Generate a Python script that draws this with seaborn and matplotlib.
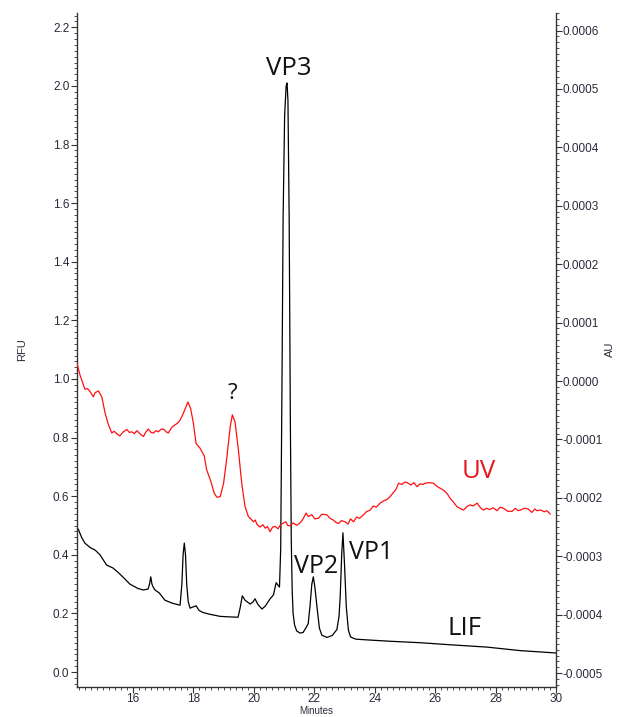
import numpy as np
import matplotlib.pyplot as plt
import matplotlib.ticker as mticker
import seaborn as sns

# ==========================================
# DATA
# ==========================================

# LIF trace, left axis (RFU)
lif_min = [14.15, 14.19, 14.30, 14.41, 14.58, 14.75, 14.91, 15.13, 15.34, 15.51,
           15.71, 15.90, 16.17, 16.34, 16.50, 16.55, 16.59, 16.63, 16.67, 16.73,
           16.87, 17.06, 17.30, 17.56, 17.62, 17.66, 17.70, 17.74, 17.78, 17.83,
           17.89, 17.99, 18.09, 18.19, 18.32, 18.55, 18.88, 19.22, 19.48, 19.55,
           19.62, 19.71, 19.88, 19.98, 20.04, 20.14, 20.27, 20.38, 20.54, 20.65,
           20.74, 20.81, 20.85, 20.89, 20.93, 20.97, 21.02, 21.07, 21.10, 21.13,
           21.17, 21.21, 21.24, 21.27, 21.30, 21.35, 21.42, 21.53, 21.63, 21.72,
           21.80, 21.86, 21.92, 21.97, 22.02, 22.09, 22.17, 22.25, 22.42, 22.60,
           22.75, 22.82, 22.86, 22.91, 22.95, 23.00, 23.06, 23.13, 23.20, 23.30,
           23.39, 23.85, 24.51, 25.51, 26.50, 27.72, 28.82, 30.00]
lif_rfu = [0.485, 0.488, 0.46, 0.44, 0.425, 0.416, 0.40, 0.365, 0.355, 0.34,
           0.32, 0.30, 0.285, 0.28, 0.283, 0.30, 0.325, 0.30, 0.29, 0.28,
           0.27, 0.245, 0.235, 0.228, 0.30, 0.40, 0.44, 0.40, 0.30, 0.24,
           0.218, 0.222, 0.226, 0.21, 0.203, 0.197, 0.19, 0.188, 0.187, 0.22,
           0.26, 0.245, 0.232, 0.24, 0.25, 0.23, 0.215, 0.225, 0.25, 0.263,
           0.305, 0.295, 0.29, 0.42, 0.95, 1.55, 1.90, 2.00, 2.01, 1.95,
           1.55, 0.85, 0.45, 0.28, 0.20, 0.16, 0.14, 0.133, 0.135, 0.15,
           0.165, 0.225, 0.30, 0.325, 0.29, 0.223, 0.15, 0.126, 0.118, 0.125,
           0.145, 0.19, 0.26, 0.405, 0.475, 0.37, 0.223, 0.143, 0.12, 0.115,
           0.112, 0.109, 0.105, 0.100, 0.093, 0.085, 0.073, 0.065]

# UV trace, right axis (AU)
uv_min = [14.15, 14.25, 14.33, 14.41, 14.50, 14.58, 14.69, 14.75, 14.86, 14.97,
          15.08, 15.19, 15.30, 15.38, 15.46, 15.57, 15.68, 15.80, 15.88, 15.96,
          16.05, 16.13, 16.25, 16.35, 16.42, 16.51, 16.60, 16.68, 16.76, 16.84,
          16.92, 17.01, 17.10, 17.17, 17.29, 17.40, 17.48, 17.56, 17.67, 17.82,
          17.91, 18.00, 18.09, 18.22, 18.36, 18.44, 18.58, 18.69, 18.78, 18.89,
          19.00, 19.11, 19.22, 19.29, 19.38, 19.49, 19.60, 19.71, 19.82, 19.90,
          19.99, 20.05, 20.10, 20.21, 20.30, 20.38, 20.45, 20.54, 20.62, 20.71,
          20.80, 20.87, 20.95, 21.06, 21.12, 21.20, 21.30, 21.42, 21.53, 21.62,
          21.73, 21.80, 21.92, 22.02, 22.14, 22.25, 22.42, 22.52, 22.63, 22.72,
          22.80, 22.90, 23.02, 23.12, 23.20, 23.30, 23.40, 23.50, 23.63, 23.72,
          23.85, 23.95, 24.05, 24.18, 24.30, 24.40, 24.51, 24.60, 24.70, 24.79,
          24.90, 25.00, 25.07, 25.20, 25.30, 25.40, 25.50, 25.60, 25.67, 25.80,
          25.95, 26.05, 26.15, 26.28, 26.40, 26.50, 26.60, 26.72, 26.82, 26.94,
          27.05, 27.16, 27.25, 27.39, 27.50, 27.60, 27.70, 27.80, 27.92, 28.05,
          28.15, 28.27, 28.40, 28.55, 28.65, 28.75, 28.82, 28.95, 29.08, 29.20,
          29.30, 29.37, 29.50, 29.61, 29.70, 29.81]
uv_au = [0.30e-4, 0.10e-4, -0.02e-4, -0.14e-4, -0.13e-4, -0.18e-4, -0.27e-4, -0.20e-4, -0.17e-4, -0.27e-4,
         -0.55e-4, -0.75e-4, -0.89e-4, -0.86e-4, -0.90e-4, -0.94e-4, -0.87e-4, -0.83e-4, -0.88e-4, -0.87e-4,
         -0.90e-4, -0.85e-4, -0.91e-4, -0.95e-4, -0.88e-4, -0.82e-4, -0.88e-4, -0.89e-4, -0.85e-4, -0.87e-4,
         -0.83e-4, -0.82e-4, -0.87e-4, -0.89e-4, -0.79e-4, -0.75e-4, -0.72e-4, -0.67e-4, -0.55e-4, -0.36e-4,
         -0.47e-4, -0.72e-4, -1.07e-4, -1.15e-4, -1.28e-4, -1.52e-4, -1.72e-4, -1.92e-4, -1.99e-4, -1.98e-4,
         -1.75e-4, -1.30e-4, -0.78e-4, -0.58e-4, -0.70e-4, -1.18e-4, -1.75e-4, -2.15e-4, -2.32e-4, -2.36e-4,
         -2.41e-4, -2.38e-4, -2.45e-4, -2.50e-4, -2.46e-4, -2.52e-4, -2.49e-4, -2.58e-4, -2.50e-4, -2.49e-4,
         -2.53e-4, -2.47e-4, -2.44e-4, -2.41e-4, -2.47e-4, -2.48e-4, -2.43e-4, -2.47e-4, -2.43e-4, -2.37e-4,
         -2.26e-4, -2.32e-4, -2.29e-4, -2.36e-4, -2.35e-4, -2.28e-4, -2.29e-4, -2.35e-4, -2.38e-4, -2.42e-4,
         -2.44e-4, -2.39e-4, -2.41e-4, -2.45e-4, -2.36e-4, -2.41e-4, -2.33e-4, -2.35e-4, -2.29e-4, -2.24e-4,
         -2.21e-4, -2.14e-4, -2.16e-4, -2.09e-4, -2.05e-4, -2.03e-4, -1.98e-4, -1.92e-4, -1.86e-4, -1.75e-4,
         -1.77e-4, -1.73e-4, -1.74e-4, -1.78e-4, -1.74e-4, -1.81e-4, -1.76e-4, -1.77e-4, -1.75e-4, -1.74e-4,
         -1.75e-4, -1.80e-4, -1.83e-4, -1.87e-4, -1.93e-4, -2.01e-4, -2.07e-4, -2.15e-4, -2.18e-4, -2.21e-4,
         -2.15e-4, -2.12e-4, -2.14e-4, -2.09e-4, -2.17e-4, -2.21e-4, -2.18e-4, -2.20e-4, -2.17e-4, -2.22e-4,
         -2.16e-4, -2.18e-4, -2.23e-4, -2.23e-4, -2.18e-4, -2.22e-4, -2.21e-4, -2.18e-4, -2.19e-4, -2.25e-4,
         -2.19e-4, -2.22e-4, -2.21e-4, -2.24e-4, -2.22e-4, -2.28e-4]

# peak / trace labels: text, minutes, RFU (baseline position), size, colour
label_text = ["VP3", "?", "VP2", "VP1", "UV", "LIF"]
label_min = [21.14, 19.29, 22.06, 23.87, 27.43, 26.96]
label_rfu = [2.038, 0.931, 0.338, 0.385, 0.662, 0.126]
label_size = [18.5, 16, 18, 18, 18.5, 18.5]
label_color = ["#111111", "#111111", "#111111", "#111111", "#e4161e", "#111111"]

x_ticks = [16, 18, 20, 22, 24, 26, 28, 30]

# ==========================================
# PLOT
# ==========================================

sns.set_style("ticks")
plt.rcParams["font.family"] = ["Liberation Sans", "DejaVu Sans"]

fig = plt.figure(figsize=(6.2, 7.17), dpi=100)
ax = fig.add_axes([0.1242, 0.0425, 0.7726, 0.9394])

sns.lineplot(x=lif_min, y=lif_rfu, ax=ax, color="black",
             linewidth=0.9, estimator=None, sort=False)

ax2 = ax.twinx()
sns.lineplot(x=uv_min, y=uv_au, ax=ax2, color="#ff1010",
             linewidth=0.9, estimator=None, sort=False)

tick_col = "#2a2a3a"

ax.set_xticks(x_ticks)
ax.xaxis.set_major_formatter(mticker.FormatStrFormatter("%d"))
ax.xaxis.set_minor_locator(mticker.MultipleLocator(0.2))
ax.yaxis.set_major_locator(mticker.MultipleLocator(0.2))
ax.yaxis.set_minor_locator(mticker.MultipleLocator(0.02))
ax.yaxis.set_major_formatter(mticker.FormatStrFormatter("%.1f"))
ax.set_xlim(14.15, 30)
ax.set_ylim(-0.0495, 2.249)

ax2.yaxis.set_major_locator(mticker.MultipleLocator(0.0001))
ax2.yaxis.set_minor_locator(mticker.MultipleLocator(0.00001))
ax2.yaxis.set_major_formatter(mticker.FormatStrFormatter("%.4f"))
ax2.set_ylim(-0.000523, 0.000630)

ax.tick_params(axis="x", which="major", length=4, width=0.8, pad=1.0,
               labelsize=8.5, labelcolor=tick_col, color="#333333")
ax.tick_params(axis="y", which="major", length=4, width=0.8, pad=1.5,
               labelsize=8.5, labelcolor=tick_col, color="#333333")
ax.tick_params(which="minor", length=2, width=0.6, color="#333333")
ax2.tick_params(axis="y", which="major", length=4, width=0.8, pad=0.6,
                labelsize=8.5, labelcolor=tick_col, color="#333333")
ax2.tick_params(axis="y", which="minor", length=2, width=0.6, color="#333333")

for a in (ax, ax2):
    a.spines["top"].set_visible(False)
    for s in a.spines.values():
        s.set_linewidth(1.0)
        s.set_color("#333333")
ax.spines["right"].set_visible(False)
ax2.spines["left"].set_visible(False)
ax2.spines["bottom"].set_visible(False)

ax.set_xlabel("Minutes", fontsize=7, color=tick_col)
ax.xaxis.set_label_coords(0.5, -0.0295)
ax.set_ylabel("RFU", fontsize=8, color=tick_col)
ax.yaxis.set_label_coords(-0.104, 0.5)
ax2.set_ylabel("AU", fontsize=8, color=tick_col)
ax2.yaxis.set_label_coords(1.102, 0.5)

for txt, m, v, sz, col in zip(label_text, label_min, label_rfu, label_size, label_color):
    ax.text(m, v, txt, ha="center", va="baseline", fontsize=sz,
            color=col, family=["Open Sans", "DejaVu Sans"], zorder=5)

fig.savefig("out.png", dpi=100)
